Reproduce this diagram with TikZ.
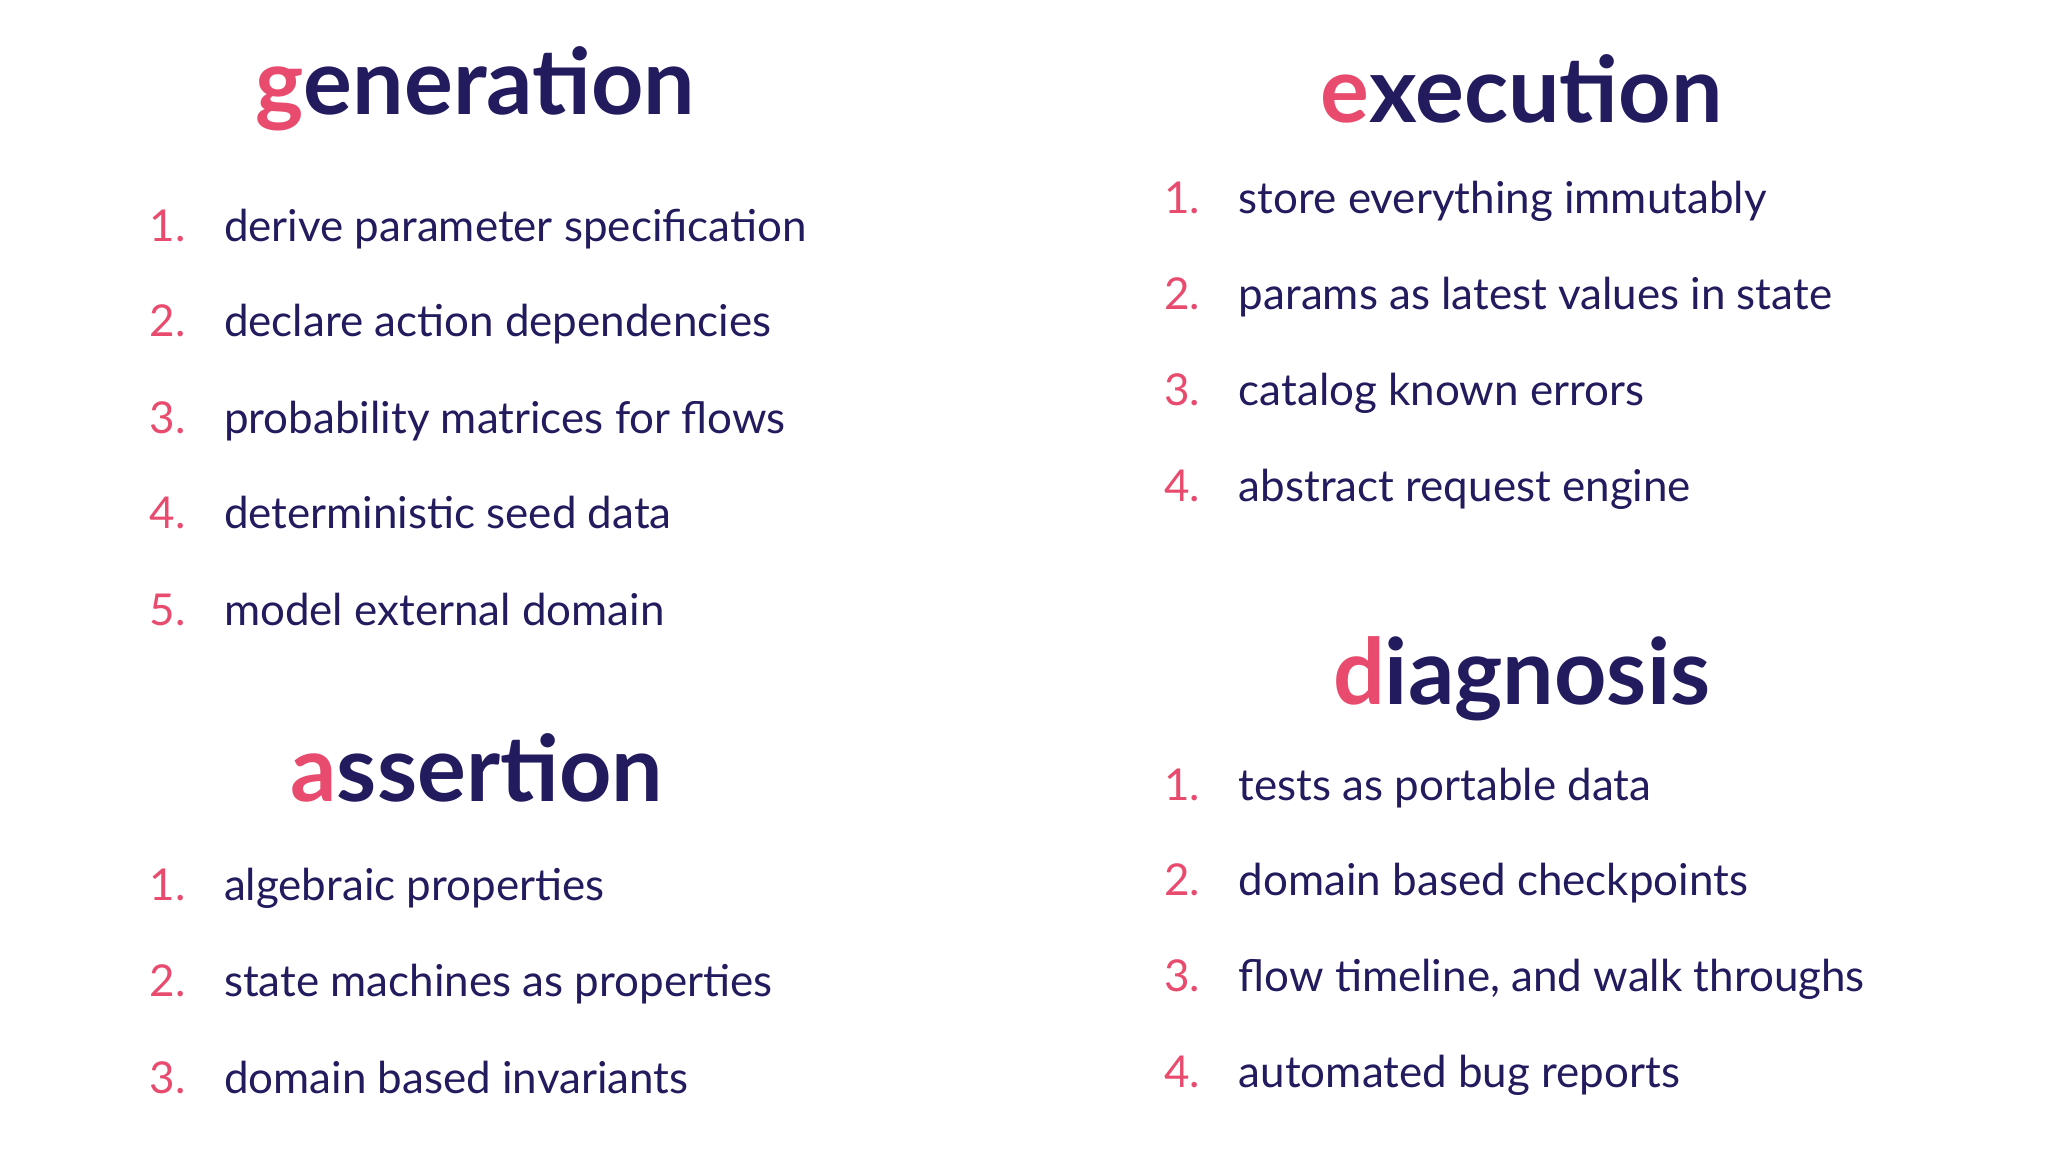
\documentclass[tikz,border=0pt]{standalone}
\usepackage{fontspec}
\setmainfont{Lato}
\definecolor{navy}{HTML}{221B5E}
\definecolor{pinkc}{HTML}{E94B6E}
\tikzset{
 head/.style={font=\fontsize{26}{30}\selectfont\bfseries, text=navy, inner sep=0pt},
 num/.style={font=\fontsize{12.5}{15}\selectfont, text=pinkc, anchor=mid west, inner sep=0pt},
 item/.style={font=\fontsize{12.5}{15}\selectfont, text=navy, anchor=mid west, inner sep=0pt}
}
\newcommand{\hl}[2]{\textcolor{pinkc}{#1}#2}
\begin{document}
\begin{tikzpicture}[x=0.1306mm,y=-0.1306mm]
\useasboundingbox[fill=white] (0,0) rectangle (1568,882);
\node[head] (h1) at (364,68) {\hl{g}{eneration}};
\node[head] (h2) at (365,588) {\hl{a}{ssertion}};
\node[head] (h3) at (1165,68) {\hl{e}{xecution}};
\node[head] (h4) at (1165,520) {\hl{d}{iagnosis}};
\foreach \y/\n/\t [count=\i] in {178/1/derive parameter specification, 251/2/declare action dependencies, 325/3/probability matrices for flows, 398/4/deterministic seed data, 472/5/model external domain}{
 \node[num] (gn\i) at (114,\y) {\n.};
 \node[item] (gt\i) at (171,\y) {\t};
}
\foreach \y/\n/\t [count=\i] in {683/1/algebraic properties, 756/2/state machines as properties, 830/3/domain based invariants}{
 \node[num] (an\i) at (114,\y) {\n.};
 \node[item] (at\i) at (171,\y) {\t};
}
\foreach \y/\n/\t [count=\i] in {157/1/store everything immutably, 230/2/params as latest values in state, 304/3/catalog known errors, 377/4/abstract request engine}{
 \node[num] (en\i) at (891,\y) {\n.};
 \node[item] (et\i) at (948,\y) {\t};
}
\foreach \y/\n/\t [count=\i] in {606/1/tests as portable data, 679/2/domain based checkpoints, 752/3/{flow timeline, and walk throughs}, 826/4/automated bug reports}{
 \node[num] (dn\i) at (891,\y) {\n.};
 \node[item] (dt\i) at (948,\y) {\t};
}
\end{tikzpicture}
\end{document}
